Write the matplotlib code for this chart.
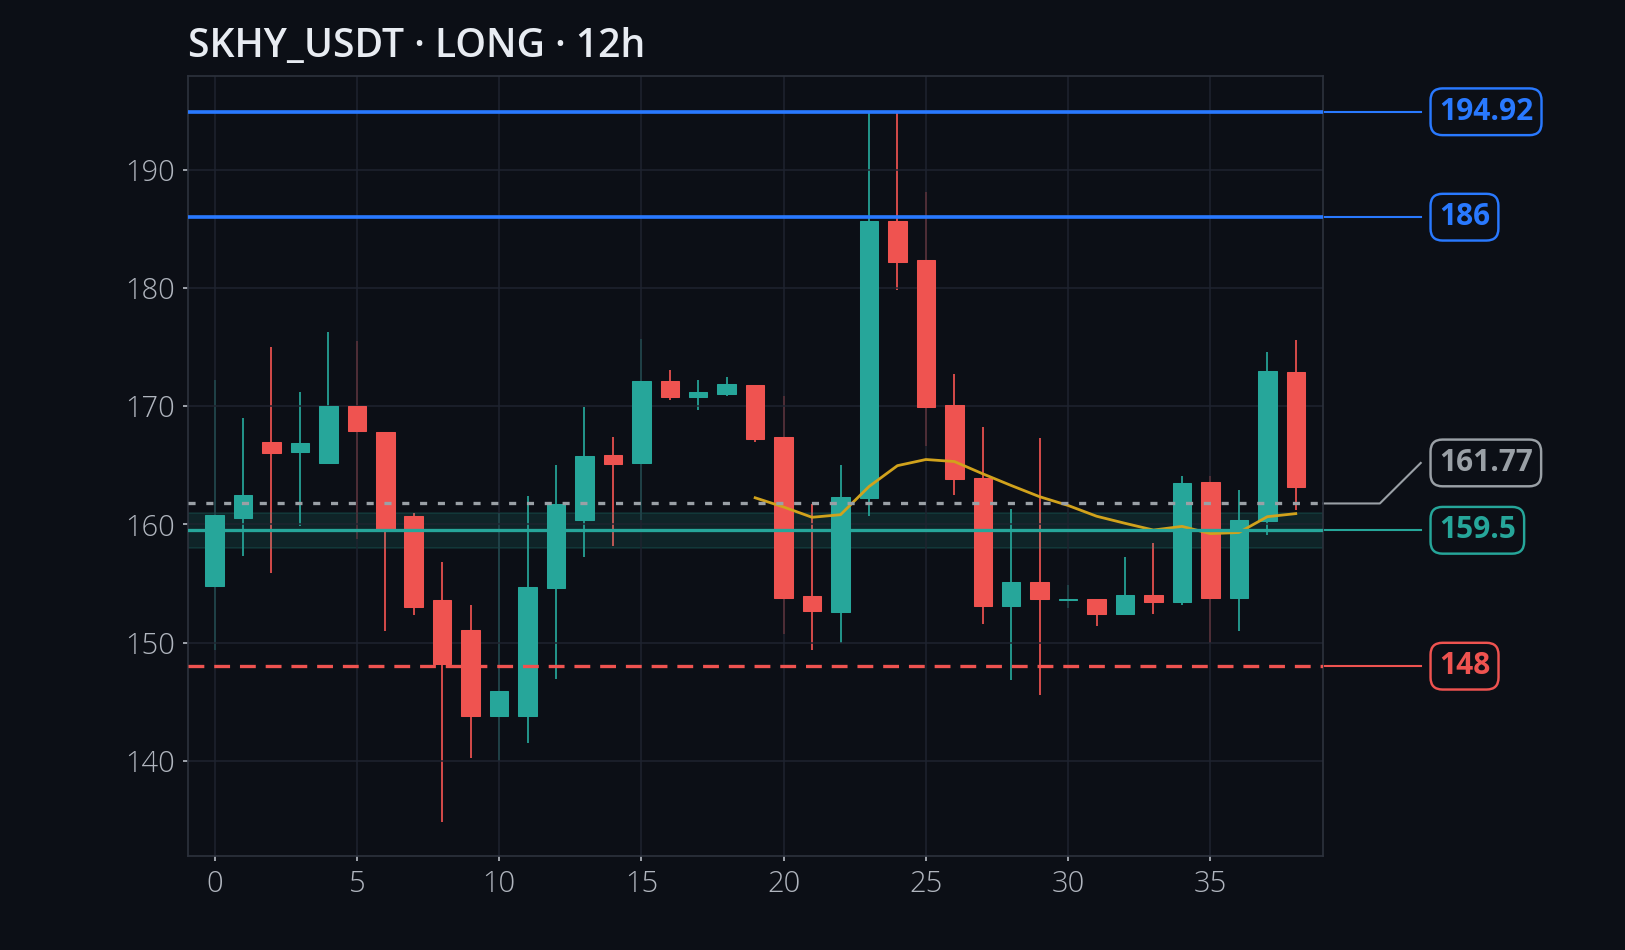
import matplotlib
matplotlib.use("Agg")
import matplotlib.pyplot as plt
from matplotlib.transforms import blended_transform_factory
from matplotlib.colors import to_rgba
import numpy as np

plt.rcParams['font.family'] = ['Open Sans', 'DejaVu Sans']

# candles (12h)
opens = [154.8, 160.5, 167.0, 166.1, 165.2, 170.0, 167.8, 160.7, 153.6, 151.1,
         143.8, 143.8, 154.6, 160.4, 165.9, 165.2, 172.1, 170.8, 171.0, 171.8,
         167.4, 153.9, 152.6, 162.25, 185.7, 182.4, 170.1, 163.9, 153.1, 155.1,
         153.6, 153.7, 152.4, 154.0, 153.4, 163.6, 153.8, 160.3, 172.9]
highs = [172.2, 169.0, 175.0, 171.2, 176.3, 175.5, 167.8, 161.0, 156.8, 153.2,
         161.0, 162.4, 165.0, 169.9, 167.4, 175.7, 173.1, 172.2, 172.5, 171.8,
         170.9, 161.7, 165.0, 194.92, 194.92, 188.1, 172.7, 168.2, 161.3, 167.3,
         154.9, 153.7, 157.2, 158.4, 164.1, 164.1, 162.9, 174.6, 175.6]
lows = [149.4, 157.3, 155.9, 159.9, 165.1, 158.8, 151.0, 152.3, 134.8, 140.2,
        140.0, 141.5, 146.9, 157.2, 158.2, 160.4, 170.5, 169.7, 170.9, 167.0,
        150.7, 149.4, 150.0, 160.7, 179.8, 166.6, 162.5, 151.6, 146.8, 145.6,
        152.9, 151.4, 152.4, 152.4, 153.2, 150.0, 151.0, 159.1, 161.2]
closes = [160.8, 162.5, 166.0, 166.9, 170.0, 167.9, 159.6, 153.0, 148.2, 143.8,
          145.9, 154.7, 161.7, 165.8, 165.1, 172.1, 170.8, 171.2, 171.85, 167.2,
          153.8, 152.7, 162.3, 185.7, 182.2, 169.9, 163.85, 153.1, 155.1, 153.7,
          153.7, 152.4, 154.0, 153.4, 163.5, 153.8, 160.4, 173.0, 163.2]

# 20-period moving average, starts at candle 19
ma_start = 19
ma20 = [162.25, 161.47, 160.6, 160.82, 163.2, 164.97, 165.49, 165.32, 164.28, 163.29,
        162.34, 161.6, 160.69, 160.09, 159.52, 159.83, 159.22, 159.31, 160.65, 160.91]

title = "SKHY_USDT · LONG · 12h"
take_profits = [194.92, 186]
last_price = 161.77
entry = 159.5
entry_zone = (158, 161)
stop_loss = 148

BG = '#0c0f16'
GREEN = '#26a69a'
RED = '#ef5350'
BLUE = '#2979ff'
GRAY = '#9aa0a6'
GOLD = '#d1a21c'

fig = plt.figure(figsize=(13, 7.6), dpi=125, facecolor=BG)
ax = fig.add_axes([0.1154, 0.0989, 0.6988, 0.8215])
ax.set_facecolor(BG)

x = np.arange(len(opens))
o = np.array(opens)
c = np.array(closes)
up = c >= o
cols = np.where(up, GREEN, RED)

ax.vlines(x, lows, highs, colors=cols, lw=1.0, zorder=1)
body = np.maximum(np.abs(c - o), 0.08)
ax.bar(x, body, bottom=np.minimum(o, c), width=0.65, color=cols,
       edgecolor=cols, lw=0.6, zorder=2)

ax.plot(np.arange(ma_start, ma_start + len(ma20)), ma20, color=GOLD, lw=1.6, zorder=3)

# levels
ax.axhspan(entry_zone[0], entry_zone[1], fc=to_rgba(GREEN, 0.14),
           ec=to_rgba(GREEN, 0.18), lw=1.0, zorder=1.2)
for tp in take_profits:
    ax.axhline(tp, color=BLUE, lw=2.1, zorder=4)
ax.axhline(entry, color=GREEN, lw=1.9, zorder=4)
ax.axhline(last_price, color=GRAY, lw=1.9, dashes=(2.15, 3.25), zorder=4)
ax.axhline(stop_loss, color=RED, lw=1.9, dashes=(4.8, 3.0), zorder=4)

# right-hand labels, nudged apart when too close
levels = [(stop_loss, RED), (entry, GREEN), (last_price, GRAY)] + [(tp, BLUE) for tp in take_profits]
levels.sort(key=lambda t: t[0])
trans = blended_transform_factory(ax.transAxes, ax.transData)
prev = -np.inf
for val, col in levels:
    ly = max(val, prev + 5.7)
    prev = ly
    if ly == val:
        ax.plot([1.0, 1.086], [val, val], color=col, lw=1.2, transform=trans, clip_on=False)
    else:
        ax.plot([1.0, 1.050, 1.086], [val, val, ly], color=col, lw=1.2, transform=trans, clip_on=False)
    ax.text(1.102, ly, f"{val:g}", transform=trans, ha='left', va='center',
            fontsize=17.2, fontweight='bold', color=col, clip_on=False,
            bbox=dict(boxstyle='round,pad=0.28,rounding_size=0.4', fc=BG, ec=col, lw=1.4))

ax.set_xlim(-0.95, 38.96)
ax.set_ylim(131.93, 197.98)
ax.set_xticks(range(0, 36, 5))
ax.set_yticks(range(140, 191, 10))
ax.grid(True, color='#1f2430', lw=1.0, alpha=0.85)
ax.tick_params(colors='#b0b5be', labelsize=16.8, length=3, width=1)
ax.tick_params(axis='x', pad=5)
ax.tick_params(axis='y', pad=4)
for lab in ax.get_xticklabels() + ax.get_yticklabels():
    lab.set_fontweight('light')
for s in ax.spines.values():
    s.set_color('#2c313c')
    s.set_linewidth(1.0)

fig.text(0.1154, 0.94, title, ha='left', va='baseline', fontsize=22.5,
         fontweight='semibold', color='#e8ecf2')

fig.savefig('out.png', dpi=125, facecolor=BG)
